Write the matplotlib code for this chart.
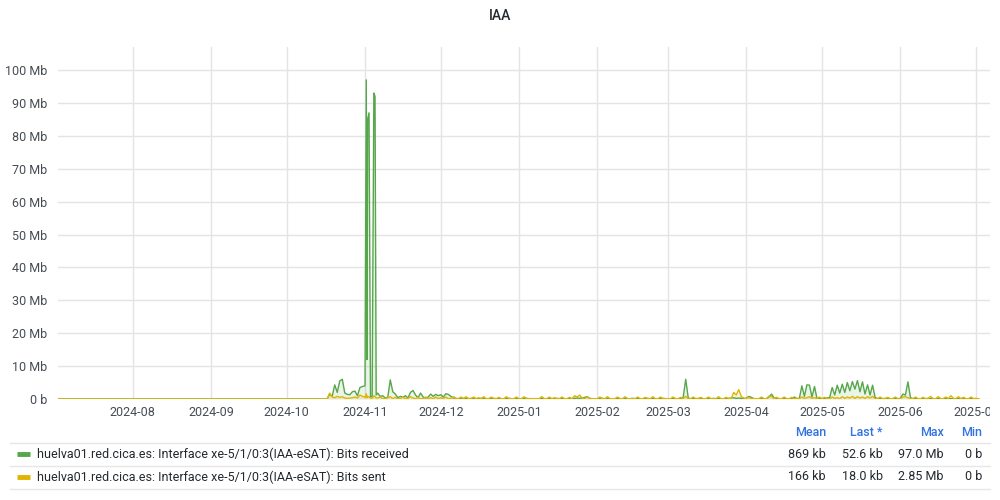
import numpy as np
import pandas as pd
import matplotlib
matplotlib.use('Agg')
import matplotlib.pyplot as plt
import matplotlib.dates as mdates
from matplotlib.lines import Line2D
from matplotlib.transforms import Bbox

plt.rcParams['font.family'] = ['Roboto', 'DejaVu Sans']

# series start (flat zero before the interface came up)
series_start = '2024-07-02'
quiet_until = '2024-10-16'

# daily values in Mb -- Bits received
rx_oct = [0.0, 1.5, 0.8, 4.3, 2.0, 5.5, 6.0, 1.8, 1.4, 1.3, 2.2, 2.4, 1.0, 3.5, 3.8]  # Oct 17-31
spike_times = ['2024-11-01 00:00', '2024-11-01 12:00', '2024-11-01 19:00', '2024-11-02 01:00',
               '2024-11-02 14:00', '2024-11-03 04:00', '2024-11-03 20:00', '2024-11-04 12:00',
               '2024-11-04 23:00', '2024-11-05 10:00']
rx_spike = [4.0, 97.0, 12.0, 85.0, 87.0, 0.6, 0.8, 93.0, 92.0, 1.2]
rx_nov = [1.8, 0.8, 1.0, 0.3, 0.5, 5.8, 2.2, 1.5, 0.4, 0.8, 0.5, 1.0, 0.3, 2.0, 2.6,
          1.2, 0.4, 1.8, 0.6, 0.3, 0.6, 1.5, 0.8, 1.4, 1.0]  # Nov 6-30
rx_dec = [1.3, 0.6, 1.6, 1.4, 0.8, 0.3, 0.2, 0.1, 0.1, 0.2, 0.1, 0.1, 0.2, 0.1, 0.1, 0.1,
          0.2, 0.1, 0.1, 0.1, 0.1, 0.2, 0.1, 0.1, 0.1, 0.1, 0.1, 0.2, 0.1, 0.1, 0.1]
rx_jan = [0.1, 0.1, 0.1, 0.2, 0.1, 0.1, 0.1, 0.1, 0.1, 0.2, 0.1, 0.1, 0.1, 0.1, 0.1, 0.2,
          0.1, 0.1, 0.1, 0.1, 0.1, 0.1, 0.2, 0.3, 0.2, 0.3, 0.5, 0.7, 0.2, 0.1, 0.1]
rx_feb = [0.1, 0.1, 0.2, 0.1, 0.1, 0.1, 0.1, 0.1, 0.2, 0.1, 0.1, 0.1, 0.1, 0.1, 0.2, 0.1,
          0.1, 0.1, 0.1, 0.1, 0.2, 0.1, 0.1, 0.1, 0.1, 0.1, 0.2, 0.1]
rx_mar = [0.1, 0.1, 0.1, 0.1, 0.1, 0.1, 0.5, 6.0, 0.3, 0.1, 0.1, 0.1, 0.2, 0.1, 0.1, 0.1,
          0.1, 0.1, 0.2, 0.1, 0.1, 0.1, 0.1, 0.1, 0.2, 0.3, 0.4, 0.2, 0.3, 0.2, 0.1]
rx_apr = [0.2, 0.8, 0.5, 0.1, 0.1, 0.1, 0.1, 0.1, 0.1, 0.6, 1.5, 0.3, 0.1, 0.1, 0.1,
          0.1, 0.1, 0.1, 0.1, 0.6, 0.1, 0.2, 4.0, 0.8, 4.3, 4.2, 0.6, 3.8, 0.1, 0.1]
rx_may = [0.1, 0.2, 0.3, 0.4, 3.5, 1.2, 4.2, 1.8, 4.5, 2.0, 5.0, 2.5, 5.3, 3.0, 5.6, 2.2,
          5.2, 1.5, 4.3, 1.2, 4.2, 0.5, 0.1, 0.1, 0.1, 0.2, 0.1, 0.1, 0.1, 0.1, 0.1]
rx_jun = [0.2, 1.5, 1.2, 5.2, 0.4, 0.1, 0.1, 0.1, 0.1, 0.1, 0.1, 0.2, 0.1, 0.1, 0.1,
          0.1, 0.1, 0.1, 0.2, 0.1, 0.1, 0.1, 0.1, 0.1, 0.1, 0.2, 0.1, 0.1, 0.1, 0.1]
rx_jul = [0.1, 0.0526]

# daily values in Mb -- Bits sent
tx_oct = [0.0, 1.8, 0.6, 0.4, 0.8, 0.5, 0.7, 0.3, 0.2, 0.3, 0.4, 0.6, 0.3, 1.2, 0.8]
tx_spike = [0.5, 1.6, 0.4, 0.8, 0.6, 0.3, 0.2, 1.0, 0.7, 0.3]
tx_nov = [0.3, 0.6, 0.1, 0.1, 0.4, 0.7, 0.1, 0.5, 0.1, 0.1, 0.6, 0.1, 0.2, 0.7, 0.3,
          0.1, 0.5, 0.1, 0.1, 0.6, 0.1, 0.4, 0.1, 0.6, 0.1]
tx_dec = [0.4, 0.1, 0.6, 0.1, 0.2, 0.7, 0.1, 0.1, 0.6, 0.1, 0.7, 0.1, 0.1, 0.6, 0.1, 0.4,
          0.1, 0.7, 0.1, 0.1, 0.6, 0.1, 0.1, 0.5, 0.1, 0.1, 0.7, 0.1, 0.1, 0.1, 0.6]
tx_jan = [0.1, 0.1, 0.7, 0.1, 0.1, 0.1, 0.1, 0.1, 0.1, 0.7, 0.1, 0.1, 0.6, 0.1, 0.4, 0.1,
          0.1, 0.6, 0.1, 0.1, 0.5, 0.1, 1.0, 0.6, 1.2, 0.3, 0.1, 0.6, 0.1, 0.1, 0.1]
tx_feb = [0.1, 0.6, 0.1, 0.1, 0.7, 0.1, 0.1, 0.1, 0.6, 0.1, 0.1, 0.7, 0.1, 0.1, 0.1, 0.1,
          0.6, 0.1, 0.1, 0.5, 0.1, 0.1, 0.7, 0.1, 0.1, 0.6, 0.1, 0.1]
tx_mar = [0.1, 0.1, 0.6, 0.1, 0.1, 0.5, 0.1, 0.8, 0.1, 0.1, 0.6, 0.1, 0.1, 0.5, 0.1, 0.1,
          0.6, 0.1, 0.1, 0.1, 0.7, 0.1, 0.1, 0.5, 0.1, 0.1, 2.0, 1.2, 2.85, 0.8, 0.3]
tx_apr = [0.1, 0.5, 0.1, 0.1, 0.1, 0.1, 0.6, 0.1, 0.1, 0.9, 0.7, 0.1, 0.5, 0.1, 0.1,
          0.6, 0.1, 0.1, 0.5, 0.1, 0.2, 0.1, 0.6, 0.2, 0.4, 0.7, 0.2, 0.4, 0.1, 0.6]
tx_may = [0.1, 0.5, 0.1, 0.1, 0.6, 0.2, 0.4, 0.1, 0.7, 0.2, 0.6, 0.3, 0.8, 0.2, 0.7, 0.3,
          0.6, 0.2, 0.7, 0.3, 0.8, 0.1, 0.1, 0.6, 0.1, 0.1, 0.5, 0.1, 0.1, 0.6, 0.1]
tx_jun = [0.1, 0.6, 0.7, 0.4, 0.1, 0.1, 0.6, 0.1, 0.1, 0.5, 0.1, 0.1, 0.8, 0.1, 0.1,
          0.7, 0.1, 0.1, 0.6, 0.1, 1.0, 0.2, 0.1, 0.7, 0.1, 0.5, 0.1, 0.1, 0.6, 0.1]
tx_jul = [0.2, 0.018]

series_names = ['huelva01.red.cica.es: Interface xe-5/1/0:3(IAA-eSAT): Bits received',
                'huelva01.red.cica.es: Interface xe-5/1/0:3(IAA-eSAT): Bits sent']
stat_headers = ['Mean', 'Last *', 'Max', 'Min']
stats_rx = ['869 kb', '52.6 kb', '97.0 Mb', '0 b']
stats_tx = ['166 kb', '18.0 kb', '2.85 Mb', '0 b']
yticks = [0, 10, 20, 30, 40, 50, 60, 70, 80, 90, 100]

segments = [('2024-10-17', 'oct'), ('2024-11-06', 'nov'), ('2024-12-01', 'dec'),
            ('2025-01-01', 'jan'), ('2025-02-01', 'feb'), ('2025-03-01', 'mar'),
            ('2025-04-01', 'apr'), ('2025-05-01', 'may'), ('2025-06-01', 'jun'),
            ('2025-07-01', 'jul')]


def build(prefix):
    src = globals()
    parts = [pd.Series([0.0, 0.0], index=pd.to_datetime([series_start, quiet_until]))]
    for start, m in segments:
        vals = src[prefix + '_' + m]
        parts.append(pd.Series(vals, index=pd.date_range(start, periods=len(vals), freq='D')))
    parts.append(pd.Series(src[prefix + '_spike'], index=pd.to_datetime(spike_times)))
    return pd.concat(parts).sort_index()


rx = build('rx')
tx = build('tx')

GREEN = '#56A64B'
YELLOW = '#E0B400'
GRID = '#E4E4E4'
TXT = '#464C54'
BLUE = '#3273E0'

fig = plt.figure(figsize=(10, 5), dpi=100)
ax = fig.add_axes([0.058, 0.202, 0.932, 0.704])

for s, c in [(rx, GREEN), (tx, YELLOW)]:
    ax.plot(s.index, s.values, color=c, lw=1)
    ax.fill_between(s.index, 0, s.values, color=c, alpha=0.12, lw=0)

ax.set_xlim(pd.Timestamp('2024-07-02 10:00'), pd.Timestamp('2025-07-06 12:00'))
ax.set_ylim(0, 107)
ax.set_yticks(yticks)
ax.set_yticklabels(['0 b' if v == 0 else '%d Mb' % v for v in yticks])
ax.xaxis.set_major_locator(mdates.MonthLocator())
ax.xaxis.set_major_formatter(mdates.DateFormatter('%Y-%m'))
ax.grid(True, color=GRID, lw=1)
ax.set_axisbelow(True)
for sp in ax.spines.values():
    sp.set_visible(False)
ax.tick_params(length=0, labelsize=9, colors=TXT, pad=5)
ax.tick_params(axis='y', pad=8)

# panel cuts off the last month label at its right edge
clip = Bbox.from_extents(0, 0, 990, 500)
for lab in ax.get_xticklabels():
    lab.set_clip_box(clip)
    lab.set_clip_on(True)

fig.text(0.5, 0.968, 'IAA', ha='center', va='center', fontsize=10, color='#24292E', fontweight='medium')

# legend table
col_x = [0.826, 0.883, 0.944, 0.982]
for x, h in zip(col_x, stat_headers):
    fig.text(x, 1 - 432 / 500, h, ha='right', va='center', fontsize=9, color=BLUE, fontweight='medium')
for yy in [443, 466, 489]:
    fig.add_artist(Line2D([0.01, 0.99], [1 - yy / 500] * 2, color='#E6E6E6', lw=1))
rows = [(454, GREEN, series_names[0], stats_rx), (477, YELLOW, series_names[1], stats_tx)]
for yy, c, name, vals in rows:
    yf = 1 - yy / 500
    fig.add_artist(Line2D([0.017, 0.030], [yf, yf], color=c, lw=3.5, solid_capstyle='butt'))
    fig.text(0.037, yf, name, ha='left', va='center', fontsize=9, color='#24292E')
    for x, v in zip(col_x, vals):
        fig.text(x, yf, v, ha='right', va='center', fontsize=9, color='#24292E')

fig.savefig('out.png', dpi=100)
